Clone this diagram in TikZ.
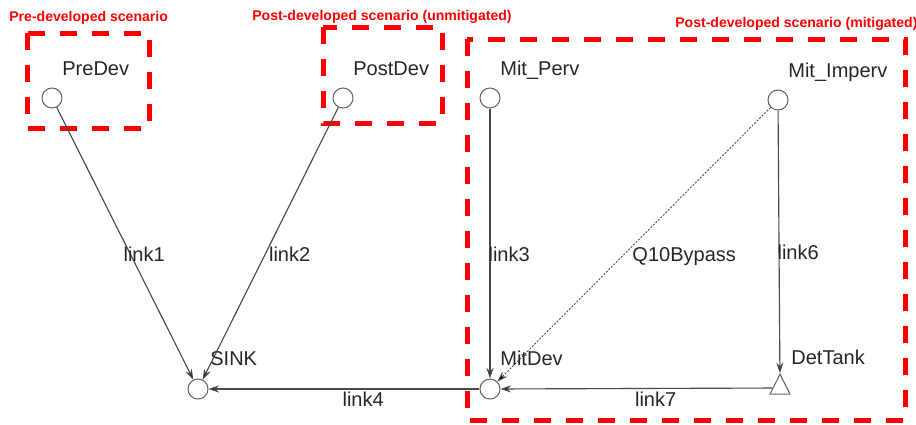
\documentclass[tikz,border=0pt]{standalone}
\usepackage{fontspec}
\setmainfont{Liberation Sans}
\usetikzlibrary{arrows.meta,shapes.geometric}
\definecolor{linkgray}{HTML}{4A4A4A}
\definecolor{scenred}{HTML}{FF0000}
\begin{document}
\begin{tikzpicture}[x=0.02cm,y=-0.02cm,
		scenario/.style={draw=scenred,line width=0.1cm,dash pattern=on 0.34cm off 0.3cm},
		scentitle/.style={text=scenred,font=\fontsize{8}{9}\selectfont\bfseries,anchor=base west,inner sep=0},
		tag/.style={font=\fontsize{11.4}{13}\selectfont,text=black!85,anchor=base west,inner sep=0},
		link/.style={draw=linkgray,line width=0.65pt,-{Stealth[length=0.21cm,width=0.14cm]}},
		linklabel/.style={font=\fontsize{11.4}{13}\selectfont,text=black!85,anchor=north west,inner sep=0,xshift=-0.04cm,yshift=-0.05cm}]
			\useasboundingbox (0,0) rectangle (916,424);
			% scenario boxes
			\draw[scenario] (27,33) rectangle (149,128);
			\draw[scenario] (323,27) rectangle (442,123);
			\draw[scenario] (467,39) rectangle (905,420);
			\node[scentitle] (PreTitle) at (9,21) {Pre-developed scenario};
			\node[scentitle] (PostTitle) at (252,20) {Post-developed scenario (unmitigated)};
			\node[scentitle] (MitTitle) at (675,27) {Post-developed scenario (mitigated)};
			\begin{scope}[every node/.style={circle,draw=gray!80!black,line width=0.6pt,fill=white,minimum size=0.4cm,inner sep=0}]
				\node (PreDev) at (52,98) {};
				\node (PostDev) at (343,98) {};
				\node (MitPerv) at (490,98) {};
				\node (MitImperv) at (778,100) {};
				\node (SINK) at (198,389) {};
				\node (MitDev) at (490,389) {};
				\node[isosceles triangle,isosceles triangle apex angle=53,shape border rotate=90,minimum width=0.4cm,minimum height=0.4cm] (DetTank) at (780,388) {};
			\end{scope}
			\begin{scope}[every node/.style={tag}]
				\node (PreDevTag) at (62,75) {PreDev};
				\node (PostDevTag) at (353,75) {PostDev};
				\node (MitPervTag) at (500,75) {Mit\_Perv};
				\node (MitImpervTag) at (788,77) {Mit\_Imperv};
				\node (SINKTag) at (210,365) {SINK};
				\node (MitDevTag) at (500,365) {MitDev};
				\node (DetTankTag) at (791,364) {DetTank};
			\end{scope}
			\begin{scope}[every node/.style={linklabel}]
				\path [link] (PreDev) edge node {link1} (SINK);
				\path [link] (PostDev) edge node {link2} (SINK);
				\path [link] (MitPerv) edge node {link3} (MitDev);
				\path [link,line width=0.5pt,dash pattern=on 0.04cm off 0.03cm] (MitImperv) edge node {Q10Bypass} (MitDev);
				\path [link] (MitImperv) edge node {link6} (DetTank);
				\path [link] (MitDev) edge node {link4} (SINK);
				\path [link] (DetTank) edge node {link7} (MitDev);
			\end{scope}
		\end{tikzpicture}
\end{document}
